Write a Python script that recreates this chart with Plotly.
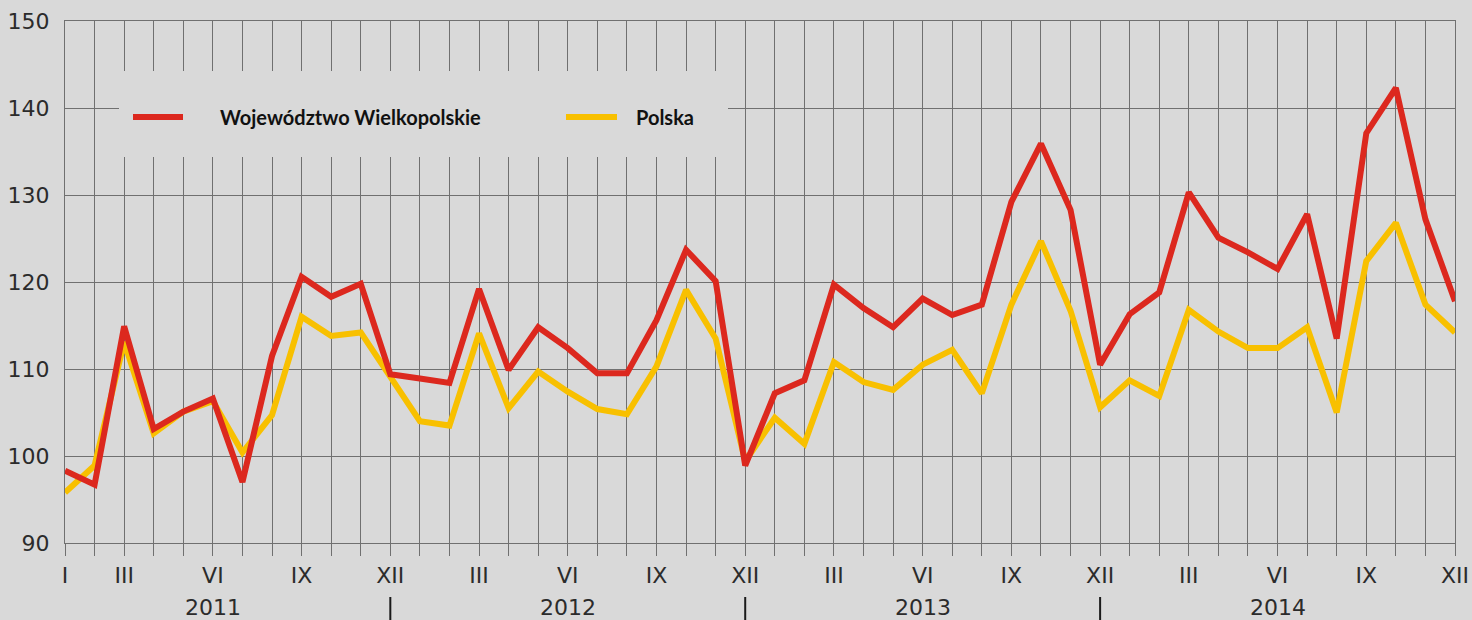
import plotly.graph_objects as go

# ---- data ----
years = ["2011", "2012", "2013", "2014"]
month_roman = ["I", "II", "III", "IV", "V", "VI", "VII", "VIII", "IX", "X", "XI", "XII"]
shown_months = ["III", "VI", "IX", "XII"]

wielkopolskie = [
    98.3, 96.7, 114.9, 103.1, 105.1, 106.6, 97.0, 111.5, 120.6, 118.3, 119.8, 109.4,
    108.9, 108.4, 119.2, 109.9, 114.8, 112.4, 109.5, 109.5, 115.6, 123.7, 120.1, 98.9,
    107.2, 108.7, 119.7, 117.0, 114.8, 118.1, 116.2, 117.4, 129.2, 135.9, 128.3, 110.5,
    116.3, 118.8, 130.3, 125.1, 123.4, 121.5, 127.8, 113.5, 137.1, 142.3, 127.2, 117.8,
]
polska = [
    95.8, 98.9, 113.1, 102.6, 105.1, 106.3, 100.4, 104.7, 116.0, 113.8, 114.2, 109.2,
    104.0, 103.5, 114.1, 105.5, 109.7, 107.4, 105.4, 104.8, 110.3, 119.1, 113.5, 99.4,
    104.4, 101.4, 110.8, 108.5, 107.6, 110.5, 112.2, 107.2, 117.4, 124.7, 116.7, 105.6,
    108.7, 106.9, 116.8, 114.3, 112.4, 112.4, 114.8, 105.0, 122.4, 126.8, 117.4, 114.2,
]

series_names = ["Województwo Wielkopolskie", "Polska"]
series_colors = ["#dc281e", "#f8c000"]

# ---- derived ----
x = list(range(1, len(wielkopolskie) + 1))
tick_text = []
for i in x:
    m = month_roman[(i - 1) % 12]
    if i == 1 or m in shown_months:
        tick_text.append(m)
    else:
        tick_text.append("")

BG = "#d9d9d9"
GRID = "#707070"
TXT = "#2b2b2b"
FONT = "DejaVu Sans"

fig = go.Figure()
fig.add_trace(go.Scatter(x=x, y=polska, mode="lines", name=series_names[1],
                         line=dict(color=series_colors[1], width=6)))
fig.add_trace(go.Scatter(x=x, y=wielkopolskie, mode="lines", name=series_names[0],
                         line=dict(color=series_colors[0], width=6)))

W, H = 1472, 620
ml, mr, mt, mb = 65, 17, 21, 77
pw, ph = W - ml - mr, H - mt - mb

def px(xp):
    return (xp - ml) / pw

def py(yp):
    return (H - mb - yp) / ph

fig.update_layout(
    width=W, height=H,
    margin=dict(l=ml, r=mr, t=mt, b=mb, autoexpand=False),
    paper_bgcolor=BG, plot_bgcolor=BG,
    showlegend=False,
    font=dict(family=FONT, color=TXT, size=22),
)
fig.update_xaxes(
    range=[1, 48], tickmode="array", tickvals=x, ticktext=tick_text,
    showgrid=True, gridcolor=GRID, gridwidth=1,
    showline=True, linecolor=GRID, linewidth=1, mirror=True,
    ticks="outside", ticklen=12, tickcolor=GRID, tickwidth=1,
    tickfont=dict(size=22, color=TXT, family=FONT), zeroline=False,
    ticklabelstandoff=1, automargin=False,
)
fig.update_yaxes(
    range=[90, 150], dtick=10, tick0=90,
    showgrid=True, gridcolor=GRID, gridwidth=1,
    showline=True, linecolor=GRID, linewidth=1, mirror=True,
    ticks="", tickfont=dict(size=22, color=TXT, family=FONT), zeroline=False,
    ticklabelstandoff=10, automargin=False,
)

shapes = []
annotations = []
# year labels and separators
for k, yr in enumerate(years):
    annotations.append(dict(x=12 * k + 6, y=py(607), xref="x", yref="paper", text=yr,
                            showarrow=False, font=dict(size=22, color=TXT, family=FONT),
                            xanchor="center", yanchor="middle"))
    if k < len(years) - 1:
        shapes.append(dict(type="line", xref="x", yref="paper", x0=12 * (k + 1), x1=12 * (k + 1),
                           y0=py(597), y1=py(621), line=dict(color="#1a1a1a", width=2)))

# legend box covering the grid
shapes.append(dict(type="rect", xref="paper", yref="paper", x0=px(119), x1=px(728),
                   y0=py(157), y1=py(71), fillcolor=BG, line=dict(width=0), layer="above"))
leg = [(133, 183, 218), (566, 617, 634)]
for (a, b, t), name, col in zip(leg, series_names, series_colors):
    shapes.append(dict(type="line", xref="paper", yref="paper", x0=px(a), x1=px(b),
                       y0=py(117), y1=py(117), line=dict(color=col, width=6), layer="above"))
    annotations.append(dict(x=px(t), y=py(117), xref="paper", yref="paper", text="<b>%s</b>" % name,
                            showarrow=False, xanchor="left", yanchor="middle",
                            font=dict(size=20, color="#111111", family="Lato")))

fig.update_layout(shapes=shapes, annotations=annotations)
fig.write_html("out.html", config={"displayModeBar": False},
               post_script="document.body.style.margin='0';document.body.style.overflow='hidden';")
